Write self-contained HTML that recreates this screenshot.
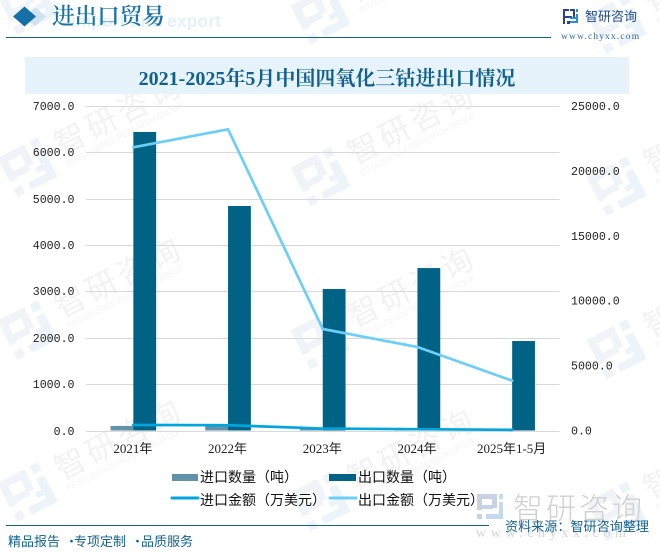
<!DOCTYPE html>
<html lang="zh">
<head>
<meta charset="utf-8">
<title>2021-2025年5月中国四氧化三钴进出口情况</title>
<style>
html,body{margin:0;padding:0;background:#fff}
#page{position:relative;width:660px;height:557px;overflow:hidden;background:#fff;font-family:"Liberation Sans","Noto Sans CJK SC",sans-serif}
svg{position:absolute;left:0;top:0}
</style>
</head>
<body>
<div id="page">
<svg id="chart" width="660" height="557" viewBox="0 0 660 557" xmlns="http://www.w3.org/2000/svg">
  <g id="watermarks"></g>

  <text x="221" y="27" text-anchor="end" font-family="'Liberation Sans',sans-serif" font-weight="700" font-size="17.7" fill="#e3f1fa">import and export</text>
  <polygon points="35,7 46,16.5 35,26 24,16.5" fill="#cfe2ef"/>
  <polygon points="24.5,6.5 36,16.5 24.5,26.5 13,16.5" fill="#1570a8"/>
  <text x="52" y="24" font-family="'Noto Serif CJK SC',serif" font-weight="600" font-size="22.6" fill="#1a73a8">进出口贸易</text>
  <line x1="6" y1="37.5" x2="551" y2="37.5" stroke="#14618f" stroke-width="1"/>

  <g>
    <rect x="563" y="9" width="6" height="2" fill="#2d3f8f"/>
    <rect x="563" y="9" width="2" height="15" fill="#2d3f8f"/>
    <rect x="563" y="16" width="9" height="2" fill="#2d3f8f"/>
    <rect x="570" y="9" width="5" height="2" fill="#2d3f8f"/>
    <rect x="573" y="9" width="2" height="8" fill="#2d3f8f"/>
    <rect x="567" y="21" width="3" height="3" fill="#2d3f8f"/>
    <rect x="576" y="14" width="2" height="8" fill="#2b8fd6"/>
    <rect x="570" y="21" width="8" height="2" fill="#2b8fd6"/>
    <rect x="570" y="17" width="6" height="2" fill="#2b8fd6"/>
    <rect x="576" y="9" width="2" height="3" fill="#2b8fd6"/>
  </g>
  <text x="585" y="21" font-family="'Noto Sans CJK SC',sans-serif" font-size="13" fill="#1f4d86">智研咨询</text>
  <text x="561" y="39" font-family="'Liberation Serif',serif" font-size="9.5" letter-spacing="1.15" fill="#3c6a96">www.chyxx.com</text>

  <rect x="25" y="57" width="604" height="37" fill="#e6f3fb"/>
  <text x="327" y="85" text-anchor="middle" font-family="'Liberation Serif','Noto Serif CJK SC',serif" font-weight="700" font-size="20" fill="#12608c">2021-2025年5月中国四氧化三钴进出口情况</text>

  <g id="grid"></g>
  <g id="bars"></g>
  <g id="lines"></g>
  <g id="axes"></g>

  <g font-family="'Liberation Serif','Noto Sans CJK SC',serif" font-size="14" fill="#111">
    <g>
      <rect x="172" y="474" width="26" height="7" fill="#6292aa"/>
      <text x="200" y="482">进口数量（吨）</text>
    </g>
    <g>
      <rect x="329" y="474" width="27" height="7" fill="#006386"/>
      <text x="358" y="482">出口数量（吨）</text>
    </g>
    <g>
      <line x1="172" y1="498" x2="198" y2="498" stroke="#00a5dd" stroke-width="3" stroke-linecap="round"/>
      <text x="200" y="505">进口金额（万美元）</text>
    </g>
    <g>
      <line x1="330" y1="498" x2="356" y2="498" stroke="#6dcff6" stroke-width="3" stroke-linecap="round"/>
      <text x="358" y="505">出口金额（万美元）</text>
    </g>
  </g>

  <g>
    <rect x="477" y="494" width="5" height="16" fill="#c8d2e4"/>
    <rect x="477" y="494" width="20" height="5" fill="#c8d2e4"/>
    <rect x="477" y="505" width="16" height="4" fill="#c8d2e4"/>
    <rect x="492" y="494" width="5" height="14" fill="#c8d2e4"/>
    <rect x="477" y="514" width="5" height="5" fill="#c8d2e4"/>
    <rect x="499" y="494" width="4" height="5" fill="#c4daf0"/>
    <rect x="499" y="502" width="4" height="17" fill="#c4daf0"/>
    <rect x="486" y="514" width="17" height="5" fill="#c4daf0"/>
  </g>
  <text x="513" y="519" font-family="'Noto Sans CJK SC',sans-serif" font-weight="300" font-size="30" letter-spacing="3" fill="#d0d0d0">智研咨询</text>
  <text x="476" y="537" font-family="'Liberation Serif',serif" font-size="14" letter-spacing="4.6" fill="#d4d4d4">www.chyxx.com</text>

  <line x1="6" y1="525.5" x2="489" y2="525.5" stroke="#14618f" stroke-width="1"/>
  <text y="546" font-family="'Noto Sans CJK SC',sans-serif" font-size="13" fill="#14618f"><tspan x="8">精品报告</tspan><tspan x="65">·</tspan><tspan x="74">专项定制</tspan><tspan x="131">·</tspan><tspan x="141">品质服务</tspan></text>
  <text x="505" y="531" font-family="'Noto Sans CJK SC',sans-serif" font-size="13.1" fill="#14618f">资料来源：智研咨询整理</text>
</svg>
</div>
<script>
const categories = ['2021年', '2022年', '2023年', '2024年', '2025年1-5月'];
const importQuantity = [97, 97, 32, 20, 6];
const exportQuantity = [6440, 4843, 3052, 3504, 1930];
const importValue = [424, 410, 150, 100, 50];
const exportValue = [21820, 23205, 7820, 6433, 3837];
const leftTicks = ['0.0', '1000.0', '2000.0', '3000.0', '4000.0', '5000.0', '6000.0', '7000.0'];
const rightTicks = ['0.0', '5000.0', '10000.0', '15000.0', '20000.0', '25000.0'];

const NS = 'http://www.w3.org/2000/svg';
const plot = { left: 86, right: 559.5, top: 106, bottom: 430.5 };
const leftMax = Number(leftTicks[leftTicks.length - 1]);
const rightMax = Number(rightTicks[rightTicks.length - 1]);
const band = (plot.right - plot.left) / categories.length;
const barWidth = 22.8;

function xCenter(i) { return plot.left + band * (i + 0.5); }
function yLeft(v) { return plot.bottom - (v / leftMax) * (plot.bottom - plot.top); }
function yRight(v) { return plot.bottom - (v / rightMax) * (plot.bottom - plot.top); }
function make(tag, attrs, parent) {
  const el = document.createElementNS(NS, tag);
  Object.keys(attrs).forEach(function (k) { el.setAttribute(k, attrs[k]); });
  parent.appendChild(el);
  return el;
}

const gridG = document.getElementById('grid');
const barsG = document.getElementById('bars');
const linesG = document.getElementById('lines');
const axesG = document.getElementById('axes');
const axisFont = "'Liberation Mono','Noto Sans CJK SC',monospace";

leftTicks.forEach(function (t) {
  const y = Math.round(yLeft(Number(t))) + 0.5;
  const line = make('line', { x1: plot.left, x2: plot.right, y1: y, y2: y, stroke: '#d9d9d9', 'stroke-width': 1 }, gridG);
  
  
  const label = make('text', { x: 74.5, y: y + 3.5, 'text-anchor': 'end', 'font-family': axisFont, 'font-size': 11.6, fill: '#222' }, axesG);
  label.textContent = t;
  
  
});

rightTicks.forEach(function (t) {
  const y = yRight(Number(t));
  const label = make('text', { x: 571, y: y + 4, 'font-family': axisFont, 'font-size': 11.6, fill: '#222' }, axesG);
  label.textContent = t;
  
  
});

categories.forEach(function (c, i) {
  const cx = xCenter(i);
  const imp = make('rect', { x: cx - barWidth, y: yLeft(importQuantity[i]), width: barWidth, height: plot.bottom - yLeft(importQuantity[i]), fill: '#6292aa' }, barsG);
  
  
  const exp = make('rect', { x: cx, y: yLeft(exportQuantity[i]), width: barWidth, height: plot.bottom - yLeft(exportQuantity[i]), fill: '#006386' }, barsG);
  
  
  const label = make('text', { x: cx - 0.5, y: 453, 'text-anchor': 'middle', 'font-family': "'Liberation Serif','Noto Sans CJK SC',serif", 'font-size': 13, fill: '#222' }, axesG);
  label.textContent = c;
  
  
});

function linePoints(values) {
  return values.map(function (v, i) { return xCenter(i) + ',' + yRight(v); }).join(' ');
}
const importLine = make('polyline', { points: linePoints(importValue), fill: 'none', stroke: '#00a5dd', 'stroke-width': 2.7, 'stroke-linecap': 'round', 'stroke-linejoin': 'round' }, linesG);


const exportLine = make('polyline', { points: linePoints(exportValue), fill: 'none', stroke: '#6dcff6', 'stroke-width': 2.7, 'stroke-linecap': 'round', 'stroke-linejoin': 'round' }, linesG);



const wmG = document.getElementById('watermarks');
[28, 321, 617].forEach(function (cx, col) {
  [5, 167, 330, 492].forEach(function (base) {
    const g = make('g', { transform: 'translate(' + cx + ',' + (base + col * 9.5) + ') rotate(-27)' }, wmG);
    
    
    make('rect', { x: -23, y: -22, width: 8, height: 28, fill: '#f0f3f8' }, g);
    make('rect', { x: -23, y: -22, width: 30, height: 8, fill: '#f0f3f8' }, g);
    make('rect', { x: -1, y: -22, width: 8, height: 22, fill: '#f0f3f8' }, g);
    make('rect', { x: -23, y: -3, width: 24, height: 7, fill: '#f0f3f8' }, g);
    make('rect', { x: -23, y: 13, width: 9, height: 9, fill: '#f0f3f8' }, g);
    make('rect', { x: 13, y: -22, width: 9, height: 9, fill: '#ecf4fa' }, g);
    make('rect', { x: 13, y: -8, width: 9, height: 30, fill: '#ecf4fa' }, g);
    make('rect', { x: -7, y: 14, width: 29, height: 8, fill: '#ecf4fa' }, g);
    make('rect', { x: 6, y: 4, width: 16, height: 6, fill: '#ecf4fa' }, g);
    const t = make('text', { x: 35, y: 5, 'font-family': "'Noto Sans CJK SC',sans-serif", 'font-size': 31, 'letter-spacing': 4, fill: '#f2f2f2' }, g);
    t.textContent = '智研咨询';
    
    
    const t2 = make('text', { x: 36, y: 17.5, 'font-family': "'Liberation Sans',sans-serif", 'font-size': 8.5, textLength: 129, lengthAdjust: 'spacingAndGlyphs', fill: '#f3f3f3' }, g);
    t2.textContent = 'INTELLIGENCE RESEARCH GROUP';
    
    
  });
});
</script>
</body>
</html>
